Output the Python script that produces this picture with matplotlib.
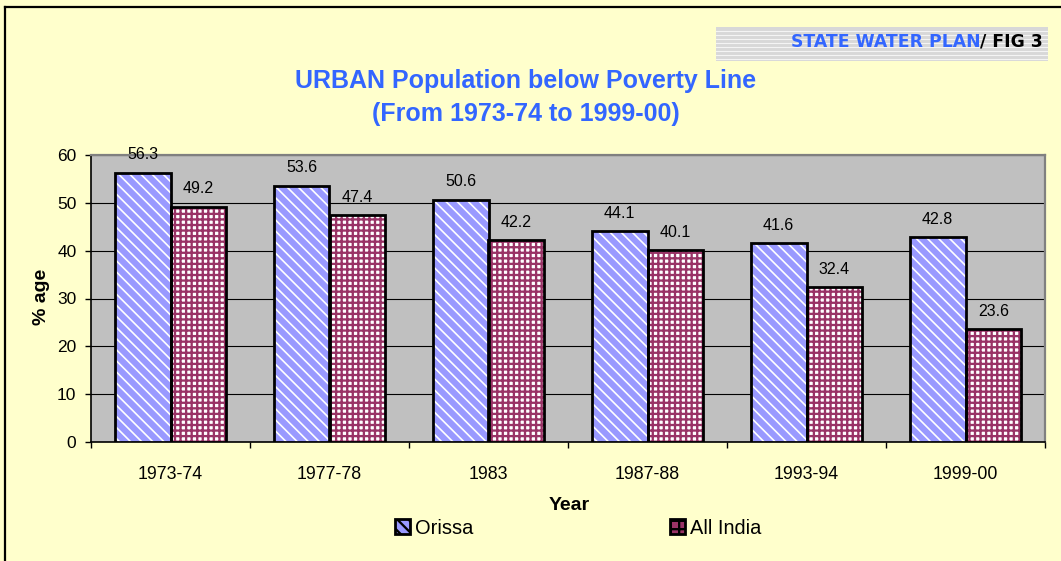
import matplotlib
matplotlib.use("Agg")
import matplotlib.pyplot as plt
import numpy as np
from matplotlib.patches import Patch, Rectangle
from matplotlib.lines import Line2D

years = ["1973-74", "1977-78", "1983", "1987-88", "1993-94", "1999-00"]
orissa = [56.3, 53.6, 50.6, 44.1, 41.6, 42.8]
all_india = [49.2, 47.4, 42.2, 40.1, 32.4, 23.6]
series_names = ["Orissa", "All India"]
yticks = [0, 10, 20, 30, 40, 50, 60]

W, H = 1061, 561
BG = "#FFFFCC"
PLOT_BG = "#C0C0C0"
BLUE = "#9999FF"
MAROON = "#993366"
TITLE_BLUE = "#3366FF"
FONT = ["Liberation Sans", "DejaVu Sans"]

plt.rcParams['font.family'] = FONT
fig = plt.figure(figsize=(W / 100, H / 100), dpi=100, facecolor=BG)
ax = fig.add_axes([91 / W, 1 - 442 / H, (1045 - 91) / W, (442 - 155) / H])
ax.set_facecolor(PLOT_BG)

x = np.arange(len(years))
bw = 0.35


def hatched_bars(xpos, vals, face, hcol, hatch, hlw):
    plt.rcParams['hatch.linewidth'] = hlw
    bars = ax.bar(xpos, vals, bw, color=face, edgecolor=hcol, hatch=hatch,
                  linewidth=0, zorder=3)
    for b in bars:
        if hasattr(b, "set_hatch_linewidth"):
            b.set_hatch_linewidth(hlw)
    ax.bar(xpos, vals, bw, fill=False, edgecolor="black", linewidth=2.0, zorder=4)
    return bars


hatched_bars(x - bw / 2, orissa, BLUE, "white", "\\\\\\", 1.2)
hatched_bars(x + bw / 2, all_india, "white", MAROON, "+++", 1.65)

for xs, vals in ((x - bw / 2, orissa), (x + bw / 2, all_india)):
    for xi, v in zip(xs, vals):
        ax.annotate(f"{v:.1f}", (xi, v), xytext=(0, 9.7), textcoords="offset points",
                    ha="center", va="baseline", fontsize=11.5, color="black", zorder=5)

ax.set_xlim(-0.5, len(years) - 0.5)
ax.set_ylim(0, 60)
ax.set_yticks(yticks)
ax.set_yticklabels([str(t) for t in yticks])
ax.set_xticks(x)
ax.set_xticklabels(years)
ax.set_xticks(np.arange(len(years) + 1) - 0.5, minor=True)
ax.tick_params(axis="x", which="major", length=0, pad=17, labelsize=12.8)
ax.tick_params(axis="x", which="minor", length=4.5, width=1, direction="out", color="black")
ax.tick_params(axis="y", which="major", length=4.5, width=1, direction="out", pad=6, labelsize=12.5)
ax.yaxis.grid(True, color="black", linewidth=0.8, zorder=1)
ax.set_axisbelow(True)

for s in ("left", "bottom"):
    ax.spines[s].set_color("black")
    ax.spines[s].set_linewidth(1.2)
for s in ("top", "right"):
    ax.spines[s].set_color("#808080")
    ax.spines[s].set_linewidth(1.6)

# axis titles
fig.text(569 / W, 1 - 505 / H, "Year", ha="center", va="center", fontsize=14, fontweight="bold")
fig.text(42 / W, 1 - 297 / H, "% age", ha="center", va="center", rotation=90, fontsize=14,
         fontweight="bold")

# title
fig.text(526 / W, 1 - 81 / H, "URBAN Population below Poverty Line", ha="center", va="center",
         fontsize=18, fontweight="bold", color=TITLE_BLUE)
fig.text(526 / W, 1 - 114 / H, "(From 1973-74 to 1999-00)", ha="center", va="center",
         fontsize=18, fontweight="bold", color=TITLE_BLUE)

# header band with stripes
hax = fig.add_axes([716 / W, 1 - 61 / H, (1048 - 716) / W, (61 - 27) / H])
hax.set_xlim(0, 1)
hax.set_ylim(0, 34)
hax.add_patch(Rectangle((0, 0), 1, 34, facecolor="#D8D8D8", edgecolor="none", zorder=0))
for yy in np.arange(2, 34, 4):
    hax.axhline(yy, color="#F4F4F4", linewidth=0.8, zorder=1)
hax.set_axis_off()

t2 = fig.text(1043 / W, 1 - 42 / H, "/ FIG 3", ha="right", va="center", fontsize=12.4,
              fontweight="bold", color="black", family="DejaVu Sans", zorder=5)
fig.canvas.draw()
bb = t2.get_window_extent(fig.canvas.get_renderer())
fig.text(bb.x0 / W, 1 - 42 / H, "STATE WATER PLAN", ha="right", va="center", fontsize=12.4,
         fontweight="bold", color=TITLE_BLUE, family="DejaVu Sans", zorder=5)

# legend
handles = [Patch(facecolor=BLUE, edgecolor="black", hatch="\\\\\\", linewidth=2.0),
           Patch(facecolor=MAROON, edgecolor="black", hatch="++", linewidth=2.0)]
leg = fig.legend(handles, series_names, loc="center", bbox_to_anchor=(578 / W, 1 - 528 / H),
                 ncol=2, frameon=False, fontsize=14.4, handlelength=0.75, handleheight=0.75,
                 handletextpad=0.25, columnspacing=9.8)

# outer frame
fig.add_artist(Line2D([5 / W, 5 / W], [0, 1 - 7 / H], color="black", linewidth=1.6,
                      transform=fig.transFigure))
fig.add_artist(Line2D([5 / W, 1], [1 - 7 / H, 1 - 7 / H], color="black", linewidth=1.6,
                      transform=fig.transFigure))

fig.savefig("out.png", dpi=100, facecolor=BG)
